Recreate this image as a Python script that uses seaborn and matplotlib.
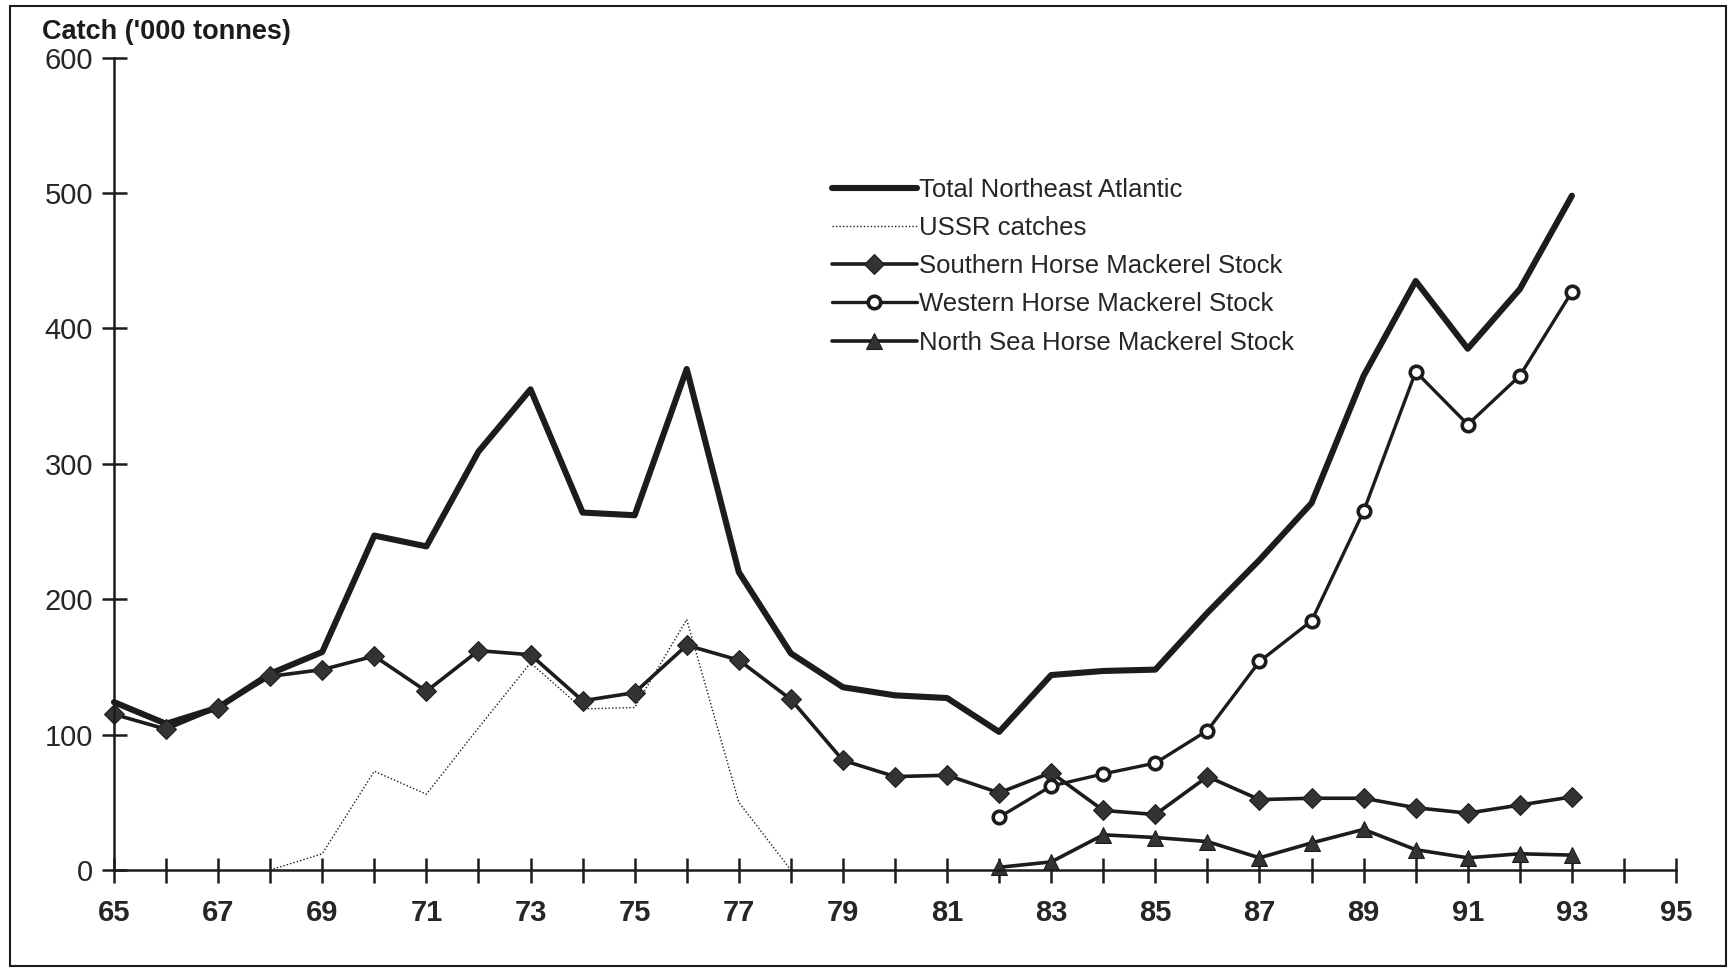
import numpy as np
import pandas as pd
import seaborn as sns
from matplotlib import pyplot as plt
from matplotlib.patches import Rectangle

# data ('000 tonnes) -------------------------------------------------------------------------------
years_total = list(range(65, 94))
total_ne_atlantic = [124, 108, 120, 145, 161, 247, 239, 309, 355, 264, 262, 370, 220, 160, 135,
                     129, 127, 102, 144, 147, 148, 190, 229, 271, 365, 435, 385, 429, 498]

years_ussr = list(range(68, 79))
ussr_catches = [0, 12, 73, 56, 105, 153, 119, 120, 185, 50, 0]

years_southern = list(range(65, 94))
southern_stock = [115, 104, 120, 143, 148, 158, 132, 162, 159, 125, 131, 166, 155, 126, 81,
                  69, 70, 57, 72, 44, 41, 69, 52, 53, 53, 46, 42, 48, 54]

years_western = list(range(82, 94))
western_stock = [39, 62, 71, 79, 103, 154, 184, 265, 368, 329, 365, 427]

years_northsea = list(range(82, 94))
northsea_stock = [2, 6, 26, 24, 21, 9, 20, 30, 15, 9, 12, 11]

x_ticks = list(range(65, 96))
x_labels = [str(y) if y % 2 == 1 else '' for y in x_ticks]
y_ticks = [0, 100, 200, 300, 400, 500, 600]

sns.set_style('ticks')
plt.rcParams['font.family'] = ['Liberation Sans', 'DejaVu Sans']

ink = '#1c1c1c'

fig = plt.figure(figsize=(17.32, 9.71), dpi=100)
ax = fig.add_axes([0.0658, 0.104, 0.9019, 0.8367])

sns.lineplot(x=years_total, y=total_ne_atlantic, ax=ax, color=ink, lw=4.4,
             label='Total Northeast Atlantic')
sns.lineplot(x=years_ussr, y=ussr_catches, ax=ax, color=ink, lw=1.0, ls=(0, (1, 1.5)),
             label='USSR catches')
sns.lineplot(x=years_southern, y=southern_stock, ax=ax, color=ink, lw=2.6, marker='D',
             ms=10, mfc='#333333', mec=ink, label='Southern Horse Mackerel Stock')
sns.lineplot(x=years_western, y=western_stock, ax=ax, color=ink, lw=2.4, marker='o',
             ms=9, mfc='white', mec=ink, mew=2.6, label='Western Horse Mackerel Stock')
sns.lineplot(x=years_northsea, y=northsea_stock, ax=ax, color=ink, lw=2.6, marker='^',
             ms=11, mfc='#333333', mec=ink, label='North Sea Horse Mackerel Stock')

ax.set_xlim(65, 95)
ax.set_ylim(0, 600)
ax.set_xticks(x_ticks)
ax.set_xticklabels(x_labels, fontsize=21, fontweight='bold')
ax.set_yticks(y_ticks)
ax.set_yticklabels([str(v) for v in y_ticks], fontsize=21)
ax.tick_params(axis='both', direction='inout', length=18, width=1.8, color=ink)
ax.tick_params(axis='x', pad=12)
ax.tick_params(axis='y', pad=6)
ax.set_xlabel('')
ax.set_ylabel('')
sns.despine(ax=ax)
ax.spines['left'].set_linewidth(1.8)
ax.spines['bottom'].set_linewidth(1.8)
ax.spines['left'].set_color(ink)
ax.spines['bottom'].set_color(ink)
for ln in ax.lines:
    ln.set_clip_on(False)

fig.text(42 / 1732, 1 - 32 / 971, "Catch ('000 tonnes)", fontsize=19.5, fontweight='bold',
         va='center', ha='left', color=ink)

leg = ax.legend(loc='upper left', bbox_to_anchor=(832 / 1732, 1 - 178 / 971),
                bbox_transform=fig.transFigure, frameon=False, fontsize=18.5,
                handlelength=3.3, handletextpad=0.08, labelspacing=0.55, borderpad=0,
                borderaxespad=0)

fig.patches.append(Rectangle((10 / 1732, 5 / 971), 1716 / 1732, 960 / 971,
                             transform=fig.transFigure, fill=False, lw=1.5, ec=ink))

fig.savefig('out.png', dpi=100)
